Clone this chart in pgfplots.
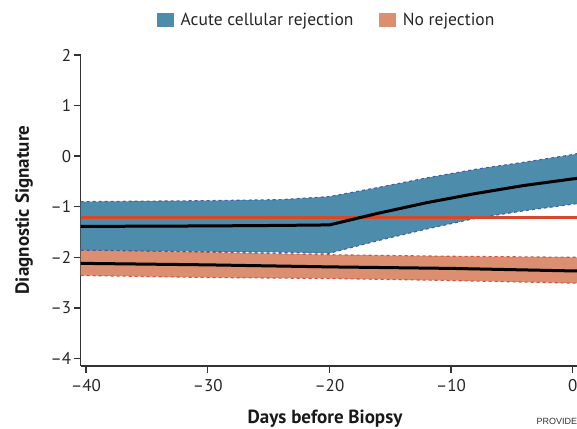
\documentclass[border=0pt]{standalone}
\usepackage{fontspec}
\setmainfont{PT Sans}
\newfontfamily\provfont{Liberation Sans}
\usepackage{pgfplots}
\pgfplotsset{compat=1.18}
\usepackage{pgfplotstable}
\usepgfplotslibrary{fillbetween}
\definecolor{acrfill}{HTML}{4E8CAB}
\definecolor{norfill}{HTML}{DC8E70}
\definecolor{redline}{HTML}{D9472B}
\definecolor{bluedash}{HTML}{3D5FA8}
\definecolor{reddash}{HTML}{D5503A}
\definecolor{axisgray}{HTML}{333333}

% days, lower, mean, upper
\pgfplotstableread{
x      lo     mid    hi
-40.44 -1.86  -1.39  -0.90
-30    -1.89  -1.38  -0.88
-24    -1.90  -1.37  -0.86
-20    -1.92  -1.36  -0.80
-16    -1.67  -1.13  -0.62
-12    -1.44  -0.92  -0.43
-8     -1.23  -0.74  -0.26
-4     -1.08  -0.58  -0.12
0      -0.95  -0.45   0.03
0.35   -0.94  -0.44   0.05
}\acr

\pgfplotstableread{
x      lo     mid    hi
-40.44 -2.36  -2.12  -1.85
-30    -2.40  -2.15  -1.90
-20    -2.42  -2.19  -1.95
-10    -2.46  -2.22  -1.98
0      -2.51  -2.27  -2.00
0.35   -2.51  -2.27  -2.00
}\norej

\begin{document}
\begin{tikzpicture}[x=1pt,y=1pt]
\begin{axis}[
    at={(80.7pt,62pt)}, anchor=south west,
    scale only axis,
    width=496.3pt, height=311pt,
    xmin=-40.44, xmax=0.35,
    ymin=-4.15, ymax=2,
    axis x line*=bottom, axis y line*=left,
    axis line style={-, line width=1.4pt, color=axisgray},
    tick style={line width=1.4pt, color=axisgray},
    tick align=outside,
    major tick length=7pt,
    xtick={-40,-30,-20,-10,0},
    xticklabels={–40,–30,–20,–10,0},
    ytick={-4,-3,-2,-1,0,1,2},
    yticklabels={–4,–3,–2,–1,0,1,2},
    ticklabel style={font=\fontsize{17}{20}\selectfont, text=black!85},
    xticklabel style={yshift=-3pt},
    yticklabel style={xshift=1pt},
    legend columns=2,
    legend style={at={(axis description cs:0.496,1.1125)}, anchor=center,
        draw=none, fill=none, font=\fontsize{17.5}{20}\selectfont, text=black!85,
        /tikz/every odd column/.append style={column sep=5pt},
        /tikz/every even column/.append style={column sep=24pt}},
]
\addlegendimage{legend image code/.code={\fill[acrfill] (0pt,-6.5pt) rectangle (16pt,6.5pt);}}
\addlegendentry{Acute cellular rejection}
\addlegendimage{legend image code/.code={\fill[norfill] (0pt,-6.5pt) rectangle (16pt,6.5pt);}}
\addlegendentry{No rejection}

% no rejection band
\addplot[name path=nrhi, reddash, line width=1.1pt, dashed] table[x=x,y=hi] {\norej};
\addplot[name path=nrlo, reddash, line width=1.1pt, dashed] table[x=x,y=lo] {\norej};
\addplot[norfill] fill between[of=nrhi and nrlo];

% acute cellular rejection band
\addplot[name path=acrhi, bluedash, line width=1.1pt, dashed] table[x=x,y=hi] {\acr};
\addplot[name path=acrlo, bluedash, line width=1.1pt, dashed] table[x=x,y=lo] {\acr};
\addplot[acrfill] fill between[of=acrhi and acrlo];

% threshold
\addplot[redline, line width=3pt] coordinates {(-40.44,-1.21) (0.35,-1.21)};

% means
\addplot[black, line width=3pt] table[x=x,y=mid] {\norej};
\addplot[black, line width=3pt] table[x=x,y=mid] {\acr};
\end{axis}
\node[rotate=90, font=\bfseries\fontsize{19}{22}\selectfont, text=black!90] at (24,218) {Diagnostic Signature};
\node[font=\bfseries\fontsize{19}{22}\selectfont, text=black!90] at (325,9.5) {Days before Biopsy};
\node[anchor=base west, inner sep=0pt, font=\provfont\fontsize{9}{11}\selectfont, text=black!80] at (536.5,4) {PROVIDE};
\pgfresetboundingbox
\useasboundingbox (0,0) rectangle (577,428);
\end{tikzpicture}
\end{document}
